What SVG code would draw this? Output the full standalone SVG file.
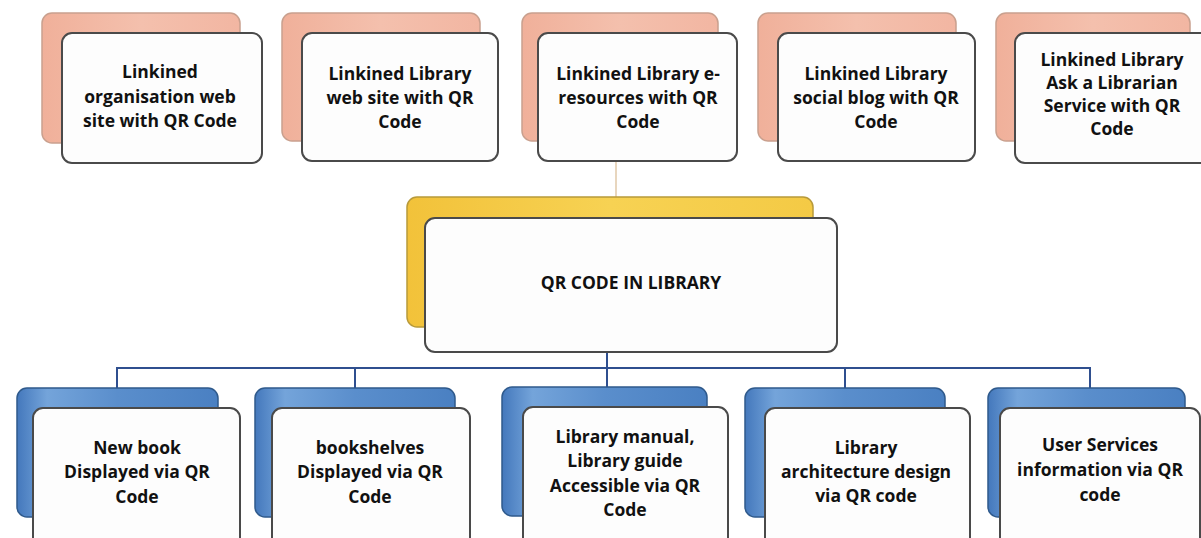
<svg xmlns="http://www.w3.org/2000/svg" width="1201" height="538" viewBox="0 0 1201 538">
<defs>
<linearGradient id="gS" x1="0" y1="0" x2="1" y2="0">
<stop offset="0" stop-color="#f0b09a"/><stop offset="0.5" stop-color="#f4c0ad"/><stop offset="1" stop-color="#f2b6a2"/>
</linearGradient>
<linearGradient id="gY" x1="0" y1="0" x2="1" y2="0">
<stop offset="0" stop-color="#f2c23a"/><stop offset="0.5" stop-color="#f7d253"/><stop offset="1" stop-color="#f4ca45"/>
</linearGradient>
<linearGradient id="gB" x1="0" y1="0" x2="1" y2="0">
<stop offset="0" stop-color="#4478bc"/><stop offset="0.15" stop-color="#74a4da"/><stop offset="0.5" stop-color="#5a8ecc"/><stop offset="1" stop-color="#4a80c2"/>
</linearGradient>
</defs>
<style>
.bs{fill:url(#gS);stroke:#c9a08e;stroke-width:1.5}
.by{fill:url(#gY);stroke:#b89a3a;stroke-width:1.5}
.bb{fill:url(#gB);stroke:#2f5a8c;stroke-width:1.5}
.fr{fill:#fdfdfd;stroke:#4a4a4a;stroke-width:2}
.t{font-family:"Open Sans","Liberation Sans",sans-serif;font-weight:bold;font-size:17.5px;fill:#111;text-anchor:middle}
.c1{fill:none;stroke:#e0c8a8;stroke-width:1.5}
.c2{fill:none;stroke:#2f4f8f;stroke-width:2}
</style>
<rect width="1201" height="538" fill="#ffffff"/>
<g id="connectors">
<line class="c1" x1="616" y1="160" x2="616" y2="198"/>
<polyline class="c2" points="607,352 607,368"/>
<polyline class="c2" points="117,390 117,368 1090,368 1090,390"/>
<line class="c2" x1="355" y1="368" x2="355" y2="390"/>
<line class="c2" x1="607" y1="368" x2="607" y2="388"/>
<line class="c2" x1="845" y1="368" x2="845" y2="390"/>
</g>
<g id="top1">
<rect class="bs" x="42" y="13" width="198" height="130" rx="10"/>
<rect class="fr" x="62" y="33" width="200" height="130" rx="10"/>
<text class="t" x="160" y="78">Linkined</text>
<text class="t" x="160" y="103">organisation web</text>
<text class="t" x="160" y="127">site with QR Code</text>
</g>
<g id="top2">
<rect class="bs" x="282" y="13" width="198" height="128" rx="10"/>
<rect class="fr" x="302" y="33" width="196" height="128" rx="10"/>
<text class="t" x="400" y="80">Linkined Library</text>
<text class="t" x="400" y="104">web site with QR</text>
<text class="t" x="400" y="128">Code</text>
</g>
<g id="top3">
<rect class="bs" x="522" y="13" width="196" height="128" rx="10"/>
<rect class="fr" x="538" y="33" width="199" height="128" rx="10"/>
<text class="t" x="638" y="80">Linkined Library e-</text>
<text class="t" x="638" y="104">resources with QR</text>
<text class="t" x="638" y="128">Code</text>
</g>
<g id="top4">
<rect class="bs" x="758" y="13" width="198" height="128" rx="10"/>
<rect class="fr" x="778" y="33" width="197" height="128" rx="10"/>
<text class="t" x="876" y="80">Linkined Library</text>
<text class="t" x="876" y="104">social blog with QR</text>
<text class="t" x="876" y="128">Code</text>
</g>
<g id="top5">
<rect class="bs" x="996" y="13" width="194" height="128" rx="10"/>
<rect class="fr" x="1015" y="33" width="196" height="130" rx="10"/>
<text class="t" x="1112" y="66">Linkined Library</text>
<text class="t" x="1112" y="89">Ask a Librarian</text>
<text class="t" x="1112" y="112">Service with QR</text>
<text class="t" x="1112" y="135">Code</text>
</g>
<g id="center">
<rect class="by" x="407" y="197" width="406" height="130" rx="10"/>
<rect class="fr" x="425" y="218" width="412" height="134" rx="10"/>
<text class="t" x="631" y="289" style="font-size:17.5px">QR CODE IN LIBRARY</text>
</g>
<g id="bot1">
<rect class="bb" x="17" y="388" width="201" height="129" rx="10"/>
<rect class="fr" x="33" y="408" width="207" height="140" rx="10"/>
<text class="t" x="137" y="454">New book</text>
<text class="t" x="137" y="478">Displayed via QR</text>
<text class="t" x="137" y="503">Code</text>
</g>
<g id="bot2">
<rect class="bb" x="255" y="388" width="200" height="129" rx="10"/>
<rect class="fr" x="272" y="408" width="198" height="140" rx="10"/>
<text class="t" x="370" y="454">bookshelves</text>
<text class="t" x="370" y="478">Displayed via QR</text>
<text class="t" x="370" y="503">Code</text>
</g>
<g id="bot3">
<rect class="bb" x="502" y="387" width="205" height="129" rx="10"/>
<rect class="fr" x="523" y="407" width="205" height="140" rx="10"/>
<text class="t" x="625" y="443">Library manual,</text>
<text class="t" x="625" y="467">Library guide</text>
<text class="t" x="625" y="492">Accessible via QR</text>
<text class="t" x="625" y="516">Code</text>
</g>
<g id="bot4">
<rect class="bb" x="745" y="388" width="200" height="129" rx="10"/>
<rect class="fr" x="765" y="408" width="205" height="140" rx="10"/>
<text class="t" x="866" y="454">Library</text>
<text class="t" x="866" y="478">architecture design</text>
<text class="t" x="866" y="502">via QR code</text>
</g>
<g id="bot5">
<rect class="bb" x="988" y="388" width="197" height="129" rx="10"/>
<rect class="fr" x="1000" y="408" width="200" height="140" rx="10"/>
<text class="t" x="1100" y="451">User Services</text>
<text class="t" x="1100" y="476">information via QR</text>
<text class="t" x="1100" y="501">code</text>
</g>
</svg>
